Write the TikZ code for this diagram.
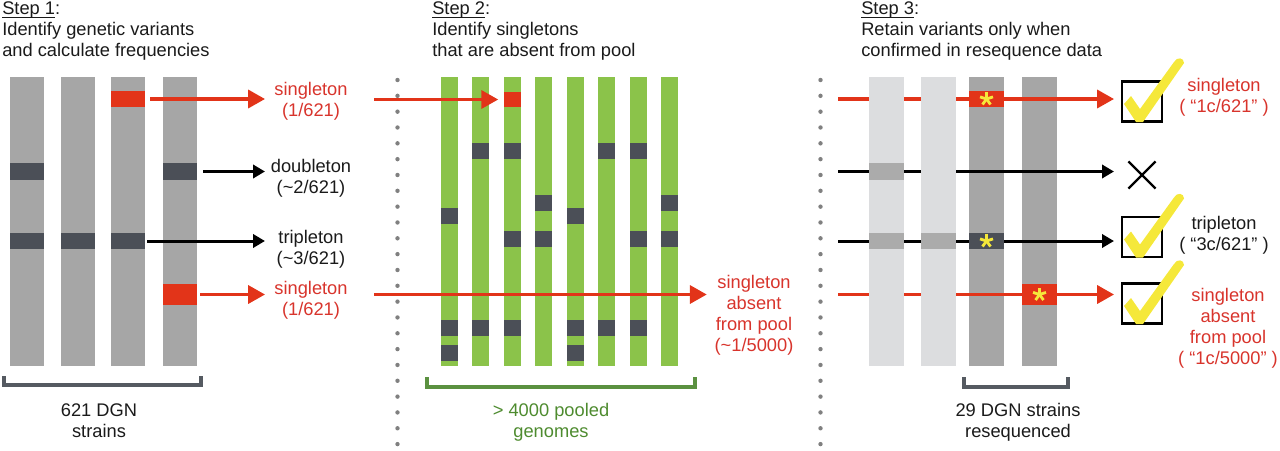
\documentclass[tikz,border=0pt]{standalone}
\usepackage{amsmath}
\usepackage{fontspec}
\setmainfont{Liberation Sans}
\usepackage{tikz}
\usetikzlibrary{arrows.meta, positioning, shapes.misc}
\usepackage{xcolor}
\definecolor{snpred}{HTML}{E23419}
\definecolor{txtred}{HTML}{D8342C}
\definecolor{txtblack}{HTML}{1A1A1A}
\definecolor{bargray}{HTML}{A6A6A6}
\definecolor{lightbar}{HTML}{DCDDDF}
\definecolor{midband}{HTML}{ABABAB}
\definecolor{bandgray}{HTML}{4B4F57}
\definecolor{poolgreen}{HTML}{8BC34A}
\definecolor{txtgreen}{HTML}{4E8B2F}
\definecolor{bracegreen}{HTML}{5B9140}
\definecolor{bracegray}{HTML}{555A61}
\definecolor{dotgray}{HTML}{808080}
\definecolor{chkyellow}{HTML}{F5E83A}
\newcommand{\stepul}[1]{\underline{\smash[b]{#1}}}

\begin{document}
\begin{tikzpicture}[x=0.025cm, y=-0.025cm, every node/.style={font=\fontsize{13}{14.9}\selectfont, inner sep=0pt, text=txtblack}]
    % Styles for the three panels
    \tikzset{
        title/.style={anchor=north west, align=left},
        lbl/.style={align=center},
        redlbl/.style={lbl, text=txtred},
        greenlbl/.style={lbl, text=txtgreen},
        snp/.style={rectangle, fill=snpred, minimum width=0.85cm, minimum height=0.4cm},
        band/.style={rectangle, fill=bandgray, minimum width=0.85cm, minimum height=0.41cm},
        pband/.style={band, minimum width=0.425cm, minimum height=0.4cm},
        redarrow/.style={draw=snpred, line width=0.08cm, -{Triangle[length=0.42cm, width=0.45cm]}},
        blkarrow/.style={draw=black, line width=0.075cm, -{Triangle[length=0.3cm, width=0.33cm]}},
        graybrace/.style={draw=bracegray, line width=0.08cm},
        greenbrace/.style={draw=bracegreen, line width=0.08cm},
        starline/.style={draw=chkyellow, line width=0.07cm},
        chkbox/.style={rectangle, draw=black, line width=0.055cm, minimum size=1cm}
    }
    \useasboundingbox (0,0) rectangle (1280,450);

    % --- STEP 1: DGN STRAINS ---
    \node (step1) [title] at (2,1.6) {\stepul{Step 1}:\\Identify genetic variants\\and calculate frequencies};
    \foreach \x in {27,78,128,180}
        \fill[bargray] (\x-17,77) rectangle (\x+17,366);

    \node (v1) [snp] at (128,99) {};
    \node (v2) [snp, minimum height=0.525cm] at (180,294.5) {};
    \node (d1) [band] at (27,171.5) {};
    \node (d2) [band] at (180,171.5) {};
    \node (t1) [band] at (27,241) {};
    \node (t2) [band] at (78,241) {};
    \node (t3) [band] at (128,241) {};

    \node (sing1) [redlbl] at (311,101) {singleton\\(1/621)};
    \node (doub) [lbl] at (311,178) {doubleton\\(\textasciitilde2/621)};
    \node (trip) [lbl] at (311,249) {tripleton\\(\textasciitilde3/621)};
    \node (sing2) [redlbl] at (311,300) {singleton\\(1/621)};

    \coordinate (end1) at (265,0);
    \draw[redarrow] ([xshift=0.125cm]v1.east) -- (v1.east -| end1);
    \draw[blkarrow] ([xshift=0.15cm]d2.east) -- (d2.east -| end1);
    \draw[blkarrow] ([xshift=0.05cm]t3.east) -- (t3.east -| end1);
    \draw[redarrow] ([xshift=0.075cm]v2.east) -- (v2.east -| end1);

    \draw[graybrace] (4,376) |- (201,385) -- (201,376);
    \node (dgn) [lbl] at (99,421) {621 DGN\\strains};

    % dotted separators
    \foreach \k in {0,...,23} {
        \fill[dotgray] (397.5,80+15.83*\k) circle (0.055cm);
        \fill[dotgray] (820.5,80+15.83*\k) circle (0.055cm);
    }

    % --- STEP 2: POOLED GENOMES ---
    \node (step2) [title] at (432,1.6) {\stepul{Step 2}:\\Identify singletons\\that are absent from pool};
    \foreach \i in {0,...,7}
        \fill[poolgreen] (449+31.5*\i-8.5,77) rectangle ++(17,289);
    \foreach \i/\ys in {0/{216,327.5,353}, 1/{150.5,327.5}, 2/{150.5,239,327.5}, 3/{203,239},
                        4/{216,327.5,353}, 5/{150.5,327.5}, 6/{150.5,239,327.5}, 7/{203,239}}
        \foreach \y [count=\n] in \ys
            \node (b\i\n) [pband] at (449+31.5*\i,\y) {};
    \node (pv) [snp, minimum width=0.425cm, minimum height=0.375cm] at (512,99.5) {};

    \node (absent) [redlbl] at (754,315.5) {singleton\\absent\\from pool\\(\textasciitilde1/5000)};
    \coordinate (start2) at (374,0);
    \draw[redarrow] (start2 |- pv.west) -- ([xshift=-0.125cm]pv.west);
    \draw[redarrow] (start2 |- v2.east) -- ([xshift=-0.19cm]v2.east -| absent.west);

    \draw[greenbrace] (427,377) |- (695,387) -- (695,377);
    \node (pool) [greenlbl] at (551,422) {> 4000 pooled\\genomes};

    % --- STEP 3: RESEQUENCED STRAINS ---
    \node (step3) [title] at (861,1.6) {\stepul{Step 3}:\\Retain variants only when\\confirmed in resequence data};
    \foreach \x in {986.5,1039.5}
        \fill[bargray] (\x-17.5,77) rectangle ++(35,289);

    \coordinate (start3) at (838,0);
    \coordinate (end3) at (1114,0);
    \draw[redarrow] (start3 |- v1) -- (end3 |- v1);
    \draw[blkarrow] (start3 |- d2) -- (end3 |- d2);
    \draw[blkarrow] (start3 |- t3) -- (end3 |- t3);
    \draw[redarrow] (start3 |- v2) -- (end3 |- v2);

    \foreach \x in {886,938}
        \fill[lightbar] (\x-17.5,77) rectangle ++(35,289);
    \node (q1) [band, fill=midband, minimum width=0.875cm] at (886,171.5) {};
    \node (q2) [band, fill=midband, minimum width=0.875cm] at (886,241) {};
    \node (q3) [band, fill=midband, minimum width=0.875cm] at (938,241) {};
    \node (c1) [snp, minimum width=0.875cm] at (986.5,99) {};
    \node (c2) [band, minimum width=0.875cm] at (986.5,241) {};
    \node (c3) [snp, minimum width=0.875cm, minimum height=0.525cm] at (1039.5,294.5) {};
    \foreach \n in {c1,c2,c3}
        \foreach \a in {90,162,234,306,18}
            \draw[starline] (\n.center) -- ++(\a:0.17cm);

    \node (ok1) [chkbox] at (1142,101.5) {};
    \node (nox) [cross out, draw=black, line width=0.06cm, minimum size=0.62cm] at (1142,175) {};
    \node (ok2) [chkbox] at (1142,237) {};
    \node (ok3) [chkbox] at (1142,303.5) {};
    \foreach \b in {ok1,ok2,ok3}
        \fill[chkyellow, shift={(\b.center)}] (-18,2.5) -- (-11,-5.5) -- (-2,7.5) -- (32,-39.5)
            .. controls (35,-45) and (42,-44) .. (42,-38.5) -- (1,20.5) -- (-6,20.5) -- cycle;

    \node (ok1lbl) [redlbl] at (1224,97) {singleton\\( “1c/621” )};
    \node (ok2lbl) [lbl] at (1224,235) {tripleton\\( “3c/621” )};
    \node (ok3lbl) [redlbl] at (1228,328) {singleton\\absent\\from pool\\( “1c/5000” )};

    \draw[graybrace] (964,377) |- (1068,387) -- (1068,377);
    \node (reseq) [lbl] at (1018,422) {29 DGN strains\\resequenced};
\end{tikzpicture}
\end{document}
